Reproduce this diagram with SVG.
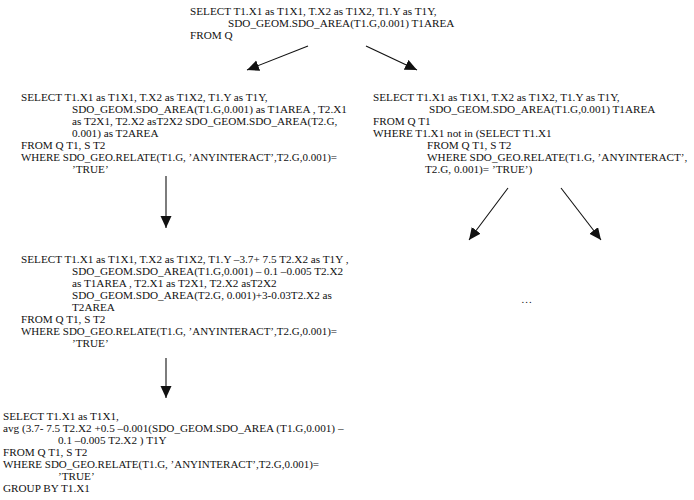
<svg xmlns="http://www.w3.org/2000/svg" width="694" height="500" viewBox="0 0 694 500">
<style>
text{font-family:"Liberation Serif","Times New Roman",serif;font-size:11.2px;fill:#111;}
.ln{stroke:#111;stroke-width:1.1;fill:none;}
</style>
<defs>
<marker id="ah" markerUnits="userSpaceOnUse" markerWidth="14" markerHeight="14" refX="12" refY="5.5" orient="auto">
<path d="M0,0 L12,5.5 L0,11 Z" fill="#111"/>
</marker>
</defs>
<rect width="694" height="500" fill="#fff"/>
<g id="root">
<text x="190" y="15">SELECT T1.X1 as T1X1, T.X2 as T1X2, T1.Y as T1Y,</text>
<text x="228" y="27">SDO_GEOM.SDO_AREA(T1.G,0.001) T1AREA</text>
<text x="190" y="39">FROM Q</text>
</g>
<g id="left1">
<text x="21" y="100.5">SELECT T1.X1 as T1X1, T.X2 as T1X2, T1.Y as T1Y,</text>
<text x="72" y="112.5">SDO_GEOM.SDO_AREA(T1.G,0.001) as T1AREA , T2.X1</text>
<text x="72" y="124.5">as T2X1, T2.X2 asT2X2 SDO_GEOM.SDO_AREA(T2.G,</text>
<text x="72" y="136.5">0.001)  as T2AREA</text>
<text x="21" y="148.5">FROM Q T1, S T2</text>
<text x="21" y="160.5" textLength="316" lengthAdjust="spacingAndGlyphs">WHERE SDO_GEO.RELATE(T1.G, ’ANYINTERACT’,T2.G,0.001)=</text>
<text x="72" y="173">’TRUE’</text>
</g>
<g id="right1">
<text x="373" y="100.5">SELECT T1.X1 as T1X1, T.X2 as T1X2, T1.Y as T1Y,</text>
<text x="429" y="112.5">SDO_GEOM.SDO_AREA(T1.G,0.001) T1AREA</text>
<text x="373" y="124.5">FROM Q T1</text>
<text x="373" y="136.5">WHERE T1.X1 not in (SELECT T1.X1</text>
<text x="427" y="148.5">FROM Q T1, S T2</text>
<text x="427" y="160.5">WHERE SDO_GEO.RELATE(T1.G, ’ANYINTERACT’,</text>
<text x="425" y="173">T2.G, 0.001)= ’TRUE’)</text>
</g>
<g id="left2">
<text x="21" y="263">SELECT T1.X1 as T1X1, T.X2 as T1X2, T1.Y –3.7+ 7.5 T2.X2 as T1Y ,</text>
<text x="72" y="275">SDO_GEOM.SDO_AREA(T1.G,0.001) – 0.1 –0.005 T2.X2</text>
<text x="72" y="287">as T1AREA , T2.X1 as T2X1, T2.X2 asT2X2</text>
<text x="72" y="299">SDO_GEOM.SDO_AREA(T2.G, 0.001)+3-0.03T2.X2  as</text>
<text x="72" y="311">T2AREA</text>
<text x="21" y="323">FROM Q T1, S T2</text>
<text x="21" y="335" textLength="316" lengthAdjust="spacingAndGlyphs">WHERE SDO_GEO.RELATE(T1.G, ’ANYINTERACT’,T2.G,0.001)=</text>
<text x="72" y="347">’TRUE’</text>
</g>
<g id="left3">
<text x="3" y="420">SELECT T1.X1 as T1X1,</text>
<text x="3" y="432">avg (3.7- 7.5 T2.X2 +0.5 –0.001(SDO_GEOM.SDO_AREA (T1.G,0.001) –</text>
<text x="58" y="444">0.1 –0.005 T2.X2 ) T1Y</text>
<text x="3" y="456">FROM Q T1, S T2</text>
<text x="3" y="468" textLength="316" lengthAdjust="spacingAndGlyphs">WHERE SDO_GEO.RELATE(T1.G, ’ANYINTERACT’,T2.G,0.001)=</text>
<text x="58" y="480">’TRUE’</text>
<text x="3" y="492">GROUP BY T1.X1</text>
</g>
<g id="more">
<text x="521" y="303">…</text>
</g>
<g id="connectors">
<line class="ln" x1="308" y1="46" x2="247" y2="70" marker-end="url(#ah)"/>
<line class="ln" x1="366" y1="46" x2="417" y2="70" marker-end="url(#ah)"/>
<line class="ln" x1="166" y1="176" x2="166" y2="228" marker-end="url(#ah)"/>
<line class="ln" x1="166" y1="358" x2="166" y2="398" marker-end="url(#ah)"/>
<line class="ln" x1="508" y1="188" x2="469" y2="240" marker-end="url(#ah)"/>
<line class="ln" x1="561" y1="188" x2="601" y2="240" marker-end="url(#ah)"/>
</g>
</svg>
